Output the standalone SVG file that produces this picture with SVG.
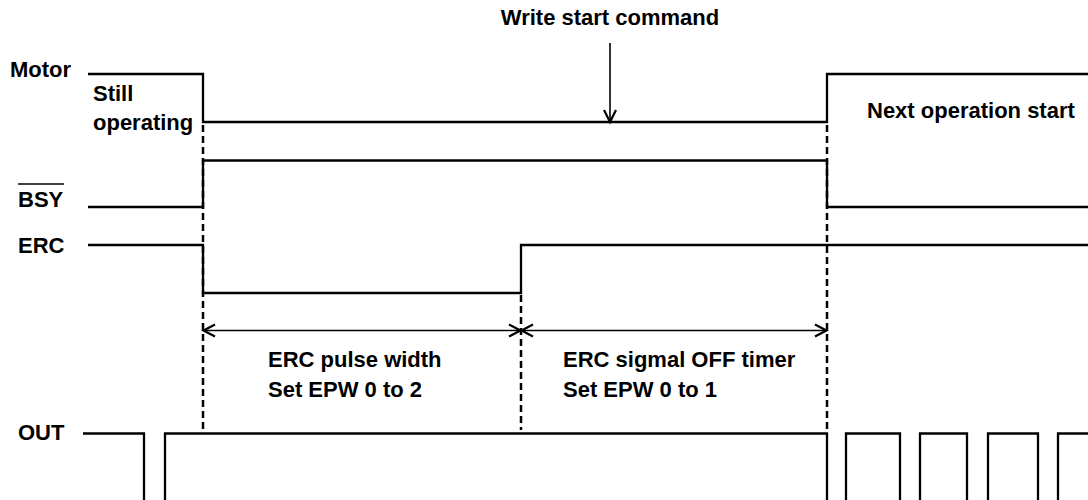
<svg xmlns="http://www.w3.org/2000/svg" width="1088" height="500" viewBox="0 0 1088 500">
  <style>
    text { font-family: "Liberation Sans", Arial, sans-serif; font-weight: bold; font-size: 22px; fill: #000; }
    .sig { fill: none; stroke: #000; stroke-width: 2.3; stroke-linejoin: miter; stroke-linecap: butt; }
    .dash { fill: none; stroke: #000; stroke-width: 2.5; stroke-dasharray: 7 4; }
    .arr { fill: none; stroke: #000; stroke-width: 1.6; }
    .head { fill: none; stroke: #000; stroke-width: 2.2; stroke-linejoin: miter; }
  </style>
  <rect width="1088" height="500" fill="#fff"/>

  <g id="connectors">
    <line class="dash" x1="203" y1="125" x2="203" y2="430"/>
    <line class="dash" x1="521" y1="295" x2="521" y2="430"/>
    <line class="dash" x1="827" y1="125" x2="827" y2="430"/>
    <line class="arr" x1="203" y1="330.5" x2="827" y2="330.5"/>
    <polyline class="head" points="215,324.5 203.5,330.5 215,336.5"/>
    <polyline class="head" points="509,324.5 520.5,330.5 509,336.5"/>
    <polyline class="head" points="533,324.5 521.5,330.5 533,336.5"/>
    <polyline class="head" points="815,324.5 826.5,330.5 815,336.5"/>
    <line class="arr" x1="610" y1="43" x2="610" y2="121"/>
    <polyline class="head" points="604,110 610,122 616,110"/>
  </g>

  <g id="write-start">
    <text x="610" y="25" text-anchor="middle">Write start command</text>
  </g>

  <g id="motor">
    <text x="10" y="77">Motor</text>
    <polyline class="sig" points="88,74 203,74 203,122 827,122 827,74 1088,74"/>
    <text x="93" y="101">Still</text>
    <text x="93" y="130">operating</text>
    <text x="867" y="118">Next operation start</text>
  </g>

  <g id="bsy">
    <text x="18" y="207">BSY</text>
    <line x1="18" y1="184" x2="64" y2="184" stroke="#000" stroke-width="1.6"/>
    <polyline class="sig" points="88,207 203,207 203,160.5 827,160.5 827,207 1088,207"/>
  </g>

  <g id="erc">
    <text x="18" y="253">ERC</text>
    <polyline class="sig" points="88,245 203,245 203,293 521,293 521,245 1088,245"/>
  </g>

  <g id="erc-pulse-width">
    <text x="268" y="367">ERC pulse width</text>
    <text x="268" y="397">Set EPW 0 to 2</text>
  </g>

  <g id="erc-off-timer">
    <text x="563" y="367">ERC sigmal OFF timer</text>
    <text x="563" y="397">Set EPW 0 to 1</text>
  </g>

  <g id="out">
    <text x="18" y="440">OUT</text>
    <polyline class="sig" points="83,433.5 144,433.5 144,501"/>
    <polyline class="sig" points="165,501 165,433.5 827,433.5 827,501"/>
    <polyline class="sig" points="846,501 846,433.5 900,433.5 900,501"/>
    <polyline class="sig" points="920,501 920,433.5 967,433.5 967,501"/>
    <polyline class="sig" points="988,501 988,433.5 1038,433.5 1038,501"/>
    <polyline class="sig" points="1058,501 1058,433.5 1089,433.5"/>
  </g>
</svg>
